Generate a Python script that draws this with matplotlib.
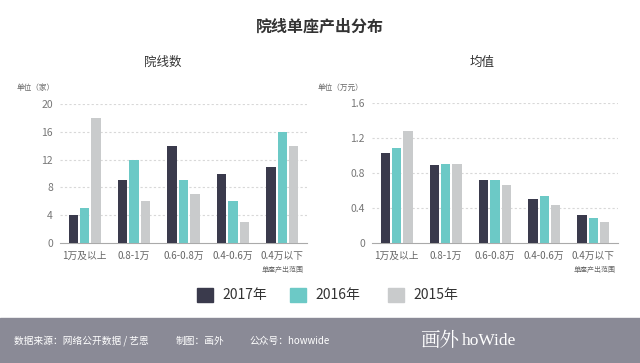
import matplotlib.pyplot as plt
import matplotlib.patches as mpatches
import numpy as np

plt.rcParams['font.family'] = ['Noto Sans CJK SC', 'DejaVu Sans']

categories = ['1万及以上', '0.8-1万', '0.6-0.8万', '0.4-0.6万', '0.4万以下']
years = ['2017年', '2016年', '2015年']
colors = ['#3a3a4c', '#6cc9c6', '#c9cbcc']

count_2017 = [4, 9, 14, 10, 11]
count_2016 = [5, 12, 9, 6, 16]
count_2015 = [18, 6, 7, 3, 14]

mean_2017 = [1.03, 0.89, 0.72, 0.50, 0.32]
mean_2016 = [1.09, 0.90, 0.72, 0.54, 0.29]
mean_2015 = [1.28, 0.90, 0.66, 0.43, 0.24]

fig = plt.figure(figsize=(6.4, 3.63), dpi=100)
W, H = 640, 363


def px_axes(x0, y0, x1, y1):
    return fig.add_axes([x0 / W, 1 - y1 / H, (x1 - x0) / W, (y1 - y0) / H])


def draw_panel(ax, series, ylim, yticks, yticklabels):
    x = np.arange(len(categories))
    step = 0.23
    for i, vals in enumerate(series):
        ax.bar(x + (i - 1) * step, vals, width=0.19, color=colors[i], zorder=3)
    ax.set_xlim(-0.5, 4.5)
    ax.set_ylim(*ylim)
    ax.set_yticks(yticks)
    ax.set_yticklabels(yticklabels, fontsize=7.5, color='#777777')
    ax.set_xticks(x)
    ax.set_xticklabels(categories, fontsize=7, color='#666666')
    for t in yticks[1:]:
        ax.axhline(t, color='#d8d8d8', linestyle=(0, (2, 2)), linewidth=0.8, zorder=1)
    for s in ['left', 'right', 'top']:
        ax.spines[s].set_visible(False)
    ax.spines['bottom'].set_color('#aaaaaa')
    ax.spines['bottom'].set_linewidth(0.8)
    ax.tick_params(length=0, pad=5)
    ax.tick_params(axis='x', pad=6)


ax1 = px_axes(60, 104, 307, 243)
draw_panel(ax1, [count_2017, count_2016, count_2015], (0, 20),
           [0, 4, 8, 12, 16, 20], ['0', '4', '8', '12', '16', '20'])
ax2 = px_axes(372, 103, 618, 243)
draw_panel(ax2, [mean_2017, mean_2016, mean_2015], (0, 1.6),
           [0, 0.4, 0.8, 1.2, 1.6], ['0', '0.4', '0.8', '1.2', '1.6'])

# titles
fig.text(320 / W, 1 - 27 / H, '院线单座产出分布', ha='center', va='center',
         fontsize=11.5, fontweight='bold', color='#333333')
fig.text(163 / W, 1 - 62 / H, '院线数', ha='center', va='center', fontsize=9, color='#333333')
fig.text(482 / W, 1 - 62 / H, '均值', ha='center', va='center', fontsize=9, color='#333333')
fig.text(17 / W, 1 - 88 / H, '单位（家）', ha='left', va='center', fontsize=5.5, color='#666666')
fig.text(318 / W, 1 - 88 / H, '单位（万元）', ha='left', va='center', fontsize=5.5, color='#666666')
fig.text(304 / W, 1 - 270 / H, '单座产出范围', ha='right', va='center', fontsize=5, color='#666666')
fig.text(616 / W, 1 - 270 / H, '单座产出范围', ha='right', va='center', fontsize=5, color='#666666')

# legend
leg_x = [197, 290, 388]
for lx, c, lab in zip(leg_x, colors, years):
    fig.patches.append(mpatches.Rectangle((lx / W, 1 - 302 / H), 16 / W, 14 / H,
                                          transform=fig.transFigure, color=c, figure=fig))
    fig.text((lx + 25) / W, 1 - 295 / H, lab, ha='left', va='center', fontsize=10, color='#333333')

# footer
fig.patches.append(mpatches.Rectangle((0, 0), 1, 45 / H, transform=fig.transFigure,
                                      color='#8a8a96', figure=fig, zorder=0))
fy = 1 - 341 / H
fig.text(14 / W, fy, '数据来源：网络公开数据 / 艺恩', ha='left', va='center', fontsize=7, color='white')
fig.text(176 / W, fy, '制图：画外', ha='left', va='center', fontsize=7, color='white')
fig.text(250 / W, fy, '公众号：howwide', ha='left', va='center', fontsize=7, color='white')
fig.text(420 / W, fy, '画外', ha='left', va='center', fontsize=14, color='white',
         family=['Noto Serif CJK SC', 'Noto Sans CJK SC'])
fig.text(462 / W, fy, 'hoWide', ha='left', va='center', fontsize=12.5, color='white',
         family=['Liberation Serif', 'DejaVu Serif'])

fig.savefig('out.png', dpi=100)
